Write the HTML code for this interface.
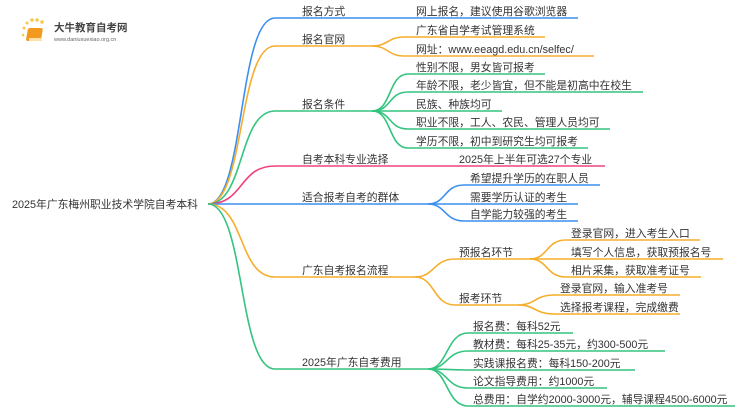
<!DOCTYPE html>
<html><head><meta charset="utf-8"><style>
html,body{margin:0;padding:0;background:#fff;}
svg{display:block}
text{font-family:"Liberation Sans","Noto Sans CJK SC",sans-serif;font-size:10.8px;fill:#333;}
</style></head><body>
<svg width="750" height="410" viewBox="0 0 750 410" xmlns="http://www.w3.org/2000/svg">
<g fill="none" stroke-width="1.6">
<path d="M208 204 C245 204 238 18 275 18 L578 18" stroke="#3c8ff0"/>
<path d="M208 204 C245 204 238 46 275 46 L372 46" stroke="#f5ae2b"/>
<path d="M372 46 C388 46 388 37 404 37 L545 37" stroke="#f5ae2b"/>
<path d="M372 46 C388 46 388 56 404 56 L594 56" stroke="#f5ae2b"/>
<path d="M208 204 C245 204 238 111 275 111 L372 111" stroke="#33c47f"/>
<path d="M372 111 C392 111 388 74 408 74 L545 74" stroke="#33c47f"/>
<path d="M372 111 C392 111 388 92 408 92 L643 92" stroke="#33c47f"/>
<path d="M372 111 L502 111" stroke="#33c47f"/>
<path d="M372 111 C392 111 388 129 408 129 L610 129" stroke="#33c47f"/>
<path d="M372 111 C392 111 388 148 408 148 L588 148" stroke="#33c47f"/>
<path d="M208 204 C245 204 238 166 275 166 L605 166" stroke="#f0437e"/>
<path d="M208 204 L428 204" stroke="#3c8ff0"/>
<path d="M428 204 C446 204 444 185 464 185 L600 185" stroke="#3c8ff0"/>
<path d="M428 204 L578 204" stroke="#3c8ff0"/>
<path d="M428 204 C446 204 444 221 464 221 L578 221" stroke="#3c8ff0"/>
<path d="M208 204 C245 204 238 277 275 277 L415 277" stroke="#f5ae2b"/>
<path d="M415 277 C435 277 433 259 455 259 L530 259" stroke="#f5ae2b"/>
<path d="M415 277 C435 277 433 305 455 305 L518 305" stroke="#f5ae2b"/>
<path d="M530 259 C548 259 546 240 566 240 L700 240" stroke="#f5ae2b"/>
<path d="M530 259 L723 259" stroke="#f5ae2b"/>
<path d="M530 259 C548 259 546 277 566 277 L701 277" stroke="#f5ae2b"/>
<path d="M518 305 C536 305 534 295 555 295 L680 295" stroke="#f5ae2b"/>
<path d="M518 305 C536 305 534 314 555 314 L680 314" stroke="#f5ae2b"/>
<path d="M208 204 C245 204 238 369 275 369 L428 369" stroke="#33c47f"/>
<path d="M428 369 C448 369 446 333 468 333 L573 333" stroke="#33c47f"/>
<path d="M428 369 C448 369 446 351 468 351 L665 351" stroke="#33c47f"/>
<path d="M428 369 C448 369 446 370 468 370 L635 370" stroke="#33c47f"/>
<path d="M428 369 C448 369 446 388 468 388 L607 388" stroke="#33c47f"/>
<path d="M428 369 C448 369 446 406 468 406 L735 406" stroke="#33c47f"/>
</g>
<g>
<circle cx="24" cy="28" r="1.5" fill="#f8c84a"/><circle cx="27" cy="23" r="1.5" fill="#f8c84a"/>
<circle cx="32" cy="20" r="1.8" fill="#f8c84a"/><circle cx="37" cy="20" r="1.8" fill="#f8c84a"/>
<circle cx="42" cy="22" r="1.8" fill="#f8c84a"/><circle cx="23" cy="35" r="1.3" fill="#f8c84a"/>
<rect x="27" y="28" width="15" height="13" rx="2" fill="#f29a1e" transform="skewX(-10) translate(6 0)"/>
<rect x="29" y="38" width="13" height="3" fill="#fde1a8"/>
<text x="54" y="31" style="font-size:10.5px;font-weight:bold;fill:#444">大牛教育自考网</text>
<text x="54" y="41" style="font-size:5.5px;fill:#666">www.daniuxuexiao.org.cn</text>
</g>
<text x="12" y="208">2025年广东梅州职业技术学院自考本科</text>
<text x="302" y="15">报名方式</text>
<text x="302" y="43">报名官网</text>
<text x="302" y="108">报名条件</text>
<text x="302" y="163">自考本科专业选择</text>
<text x="302" y="201">适合报考自考的群体</text>
<text x="302" y="274">广东自考报名流程</text>
<text x="302" y="366">2025年广东自考费用</text>
<text x="416" y="15">网上报名，建议使用谷歌浏览器</text>
<text x="416" y="34">广东省自学考试管理系统</text>
<text x="416" y="53">网址：www.eeagd.edu.cn/selfec/</text>
<text x="416" y="71">性别不限，男女皆可报考</text>
<text x="416" y="89">年龄不限，老少皆宜，但不能是初高中在校生</text>
<text x="416" y="108">民族、种族均可</text>
<text x="416" y="126">职业不限，工人、农民、管理人员均可</text>
<text x="416" y="145">学历不限，初中到研究生均可报考</text>
<text x="459" y="163">2025年上半年可选27个专业</text>
<text x="470" y="182">希望提升学历的在职人员</text>
<text x="470" y="201">需要学历认证的考生</text>
<text x="470" y="218">自学能力较强的考生</text>
<text x="459" y="256">预报名环节</text>
<text x="459" y="302">报考环节</text>
<text x="571" y="237">登录官网，进入考生入口</text>
<text x="571" y="256">填写个人信息，获取预报名号</text>
<text x="571" y="274">相片采集，获取准考证号</text>
<text x="560" y="292">登录官网，输入准考号</text>
<text x="560" y="311">选择报考课程，完成缴费</text>
<text x="473" y="330">报名费：每科52元</text>
<text x="473" y="348">教材费：每科25-35元，约300-500元</text>
<text x="473" y="367">实践课报名费：每科150-200元</text>
<text x="473" y="385">论文指导费用：约1000元</text>
<text x="473" y="403">总费用：自学约2000-3000元，辅导课程4500-6000元</text>
</svg>
</body></html>
